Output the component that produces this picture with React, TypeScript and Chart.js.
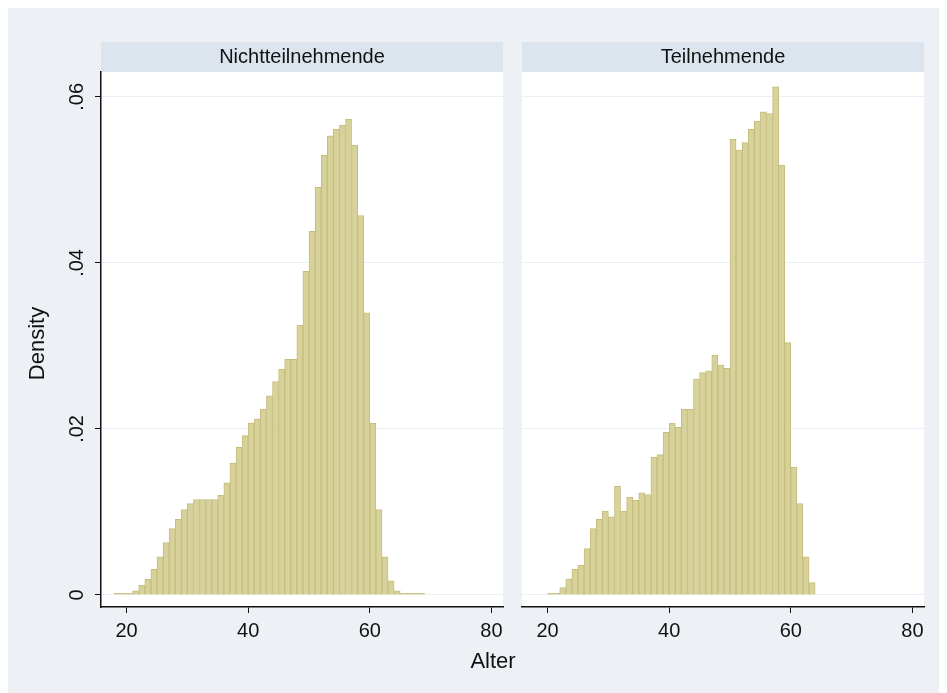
import React, { useEffect, useRef } from "react";
import { Chart, registerables } from "chart.js";

Chart.register(...registerables);

// ---------- data ----------
const panelTitles = ["Nichtteilnehmende", "Teilnehmende"];

const agesLeft = [
  18, 19, 20, 21, 22, 23, 24, 25, 26, 27, 28, 29, 30, 31, 32, 33, 34, 35, 36, 37,
  38, 39, 40, 41, 42, 43, 44, 45, 46, 47, 48, 49, 50, 51, 52, 53, 54, 55, 56, 57,
  58, 59, 60, 61, 62, 63, 64, 65, 66, 67, 68,
];
const densityLeft = [
  0.0002, 0.0002, 0.0002, 0.0005, 0.0012, 0.0019, 0.0031, 0.0046, 0.0063, 0.008,
  0.0091, 0.0103, 0.011, 0.0115, 0.0115, 0.0115, 0.0115, 0.012, 0.0135, 0.0159,
  0.0178, 0.0192, 0.0207, 0.0212, 0.0224, 0.024, 0.0257, 0.0272, 0.0284, 0.0284,
  0.0325, 0.039, 0.0438, 0.0491, 0.053, 0.0553, 0.0561, 0.0566, 0.0573, 0.0542,
  0.0457, 0.034, 0.0207, 0.0103, 0.0046, 0.0017, 0.0005, 0.0002, 0.0002, 0.0002,
  0.0002,
];

const agesRight = [
  20, 21, 22, 23, 24, 25, 26, 27, 28, 29, 30, 31, 32, 33, 34, 35, 36, 37, 38, 39,
  40, 41, 42, 43, 44, 45, 46, 47, 48, 49, 50, 51, 52, 53, 54, 55, 56, 57, 58, 59,
  60, 61, 62, 63,
];
const densityRight = [
  0.0002, 0.0002, 0.0009, 0.0019, 0.0031, 0.0036, 0.0056, 0.008, 0.0091, 0.0101,
  0.0094, 0.0131, 0.0101, 0.0118, 0.0114, 0.0123, 0.0121, 0.0166, 0.0169, 0.0196,
  0.0207, 0.0202, 0.0224, 0.0224, 0.026, 0.0268, 0.027, 0.0289, 0.0277, 0.0273,
  0.0549, 0.0536, 0.0545, 0.0561, 0.0571, 0.0582, 0.058, 0.0612, 0.0518, 0.0304,
  0.0154, 0.011, 0.0046, 0.0015,
];

const xTickValues = [20, 40, 60, 80];
const yTickValues = [0, 0.02, 0.04, 0.06];
const yTickLabels = ["0", ".02", ".04", ".06"];
const yTitle = "Density";
const xTitle = "Alter";

// ---------- style ----------
const FONT = '"Liberation Sans", Arial, Helvetica, sans-serif';
const BG = "#EDF1F6";
const STRIP = "#DCE4ED";
const GRID = "#EAF0F5";
const BAR_FILL = "#D7D29B";
const BAR_EDGE = "#C6BD7B";
const INK = "#111111";
const W = 939;
const H = 685;

if (typeof document !== "undefined") {
  document.documentElement.style.overflow = "hidden";
  document.body.style.overflow = "hidden";
}

function makeConfig(
  ages: number[],
  dens: number[],
  title: string,
  isLeft: boolean
): any {
  const padRight = isLeft ? 444 : 23;
  const yWidth = isLeft ? 93 : 514;
  const decor = {
    id: "decor",
    beforeDraw(chart: any) {
      const { ctx, chartArea: a } = chart;
      ctx.save();
      ctx.fillStyle = "#ffffff";
      ctx.fillRect(a.left, a.top, a.right - a.left, a.bottom - a.top);
      ctx.fillStyle = STRIP;
      ctx.fillRect(a.left, a.top - 30, a.right - a.left, 30);
      ctx.fillStyle = INK;
      ctx.font = `20px ${FONT}`;
      ctx.textAlign = "center";
      ctx.textBaseline = "middle";
      ctx.fillText(title, (a.left + a.right) / 2, a.top - 15);
      ctx.restore();
    },
    afterDraw(chart: any) {
      const { ctx, chartArea: a } = chart;
      const ys = chart.scales.y;
      ctx.save();
      ctx.fillStyle = INK;
      if (isLeft) {
        ctx.font = `20px ${FONT}`;
        ctx.textAlign = "center";
        ctx.textBaseline = "middle";
        yTickValues.forEach((v, i) => {
          const py = ys.getPixelForValue(v);
          ctx.save();
          ctx.translate(a.left - 24, py);
          ctx.rotate(-Math.PI / 2);
          ctx.fillText(yTickLabels[i], 0, 0);
          ctx.restore();
        });
        ctx.font = `22px ${FONT}`;
        ctx.save();
        ctx.translate(30, (a.top + a.bottom) / 2 + 4);
        ctx.rotate(-Math.PI / 2);
        ctx.fillText(yTitle, 0, 0);
        ctx.restore();
      } else {
        ctx.font = `22px ${FONT}`;
        ctx.textAlign = "center";
        ctx.textBaseline = "middle";
        ctx.fillText(xTitle, 485, 654);
      }
      ctx.restore();
    },
  };

  return {
    type: "bar",
    data: {
      datasets: [
        {
          data: ages.map((a, i) => ({ x: a + 0.5, y: dens[i] })),
          backgroundColor: BAR_FILL,
          borderColor: BAR_EDGE,
          borderWidth: 1,
          barPercentage: 1,
          categoryPercentage: 1,
        },
      ],
    },
    options: {
      animation: false,
      responsive: false,
      maintainAspectRatio: false,
      layout: { padding: { left: 0, top: 64, right: padRight, bottom: 0 } },
      plugins: {
        legend: { display: false },
        tooltip: { enabled: false },
        title: { display: false },
      },
      scales: {
        x: {
          type: "linear",
          offset: false,
          min: 15.8,
          max: 81.9,
          afterBuildTicks: (s: any) => {
            s.ticks = xTickValues.map((v) => ({ value: v }));
          },
          afterFit: (s: any) => {
            s.height = 86;
          },
          grid: {
            offset: false,
            drawOnChartArea: false,
            drawTicks: true,
            tickLength: 6,
            tickColor: INK,
            lineWidth: 1,
          },
          border: { display: true, color: INK, width: 1.5 },
          ticks: {
            color: INK,
            font: { family: FONT, size: 20 },
            padding: 6,
            maxRotation: 0,
            minRotation: 0,
            callback: (v: any) => String(v),
          },
        },
        y: {
          type: "linear",
          min: -0.00145,
          max: 0.063,
          afterBuildTicks: (s: any) => {
            s.ticks = yTickValues.map((v) => ({ value: v }));
          },
          afterFit: (s: any) => {
            s.width = yWidth;
          },
          grid: {
            color: GRID,
            lineWidth: 1,
            drawTicks: isLeft,
            tickLength: 6,
            tickColor: INK,
          },
          border: { display: isLeft, color: INK, width: 1.5 },
          ticks: { display: false },
        },
      },
    },
    plugins: [decor],
  };
}

export default function App() {
  const leftRef = useRef<HTMLCanvasElement | null>(null);
  const rightRef = useRef<HTMLCanvasElement | null>(null);

  useEffect(() => {
    const c1 = new Chart(
      leftRef.current as HTMLCanvasElement,
      makeConfig(agesLeft, densityLeft, panelTitles[0], true)
    );
    const c2 = new Chart(
      rightRef.current as HTMLCanvasElement,
      makeConfig(agesRight, densityRight, panelTitles[1], false)
    );
    return () => {
      c1.destroy();
      c2.destroy();
    };
  }, []);

  const canvasStyle: React.CSSProperties = {
    position: "absolute",
    left: 0,
    top: 0,
    width: W,
    height: H,
    display: "block",
  };

  return (
    <div style={{ position: "relative", width: W, height: H, background: BG }}>
      <canvas ref={leftRef} width={W} height={H} style={canvasStyle} />
      <canvas ref={rightRef} width={W} height={H} style={canvasStyle} />
    </div>
  );
}
